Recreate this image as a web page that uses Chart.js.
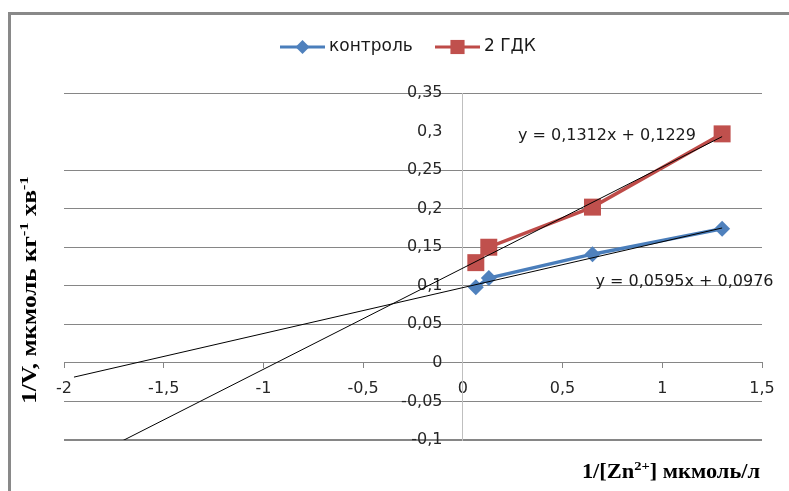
<!DOCTYPE html>
<html>
<head>
<meta charset="utf-8">
<script src="https://cdn.jsdelivr.net/npm/chart.js@4"></script>
<style>
  html, body { margin: 0; padding: 0; background: #fff; }
</style>
</head>
<body>
<canvas id="kinetics" width="789" height="491"></canvas>
<script>
  // Lineweaver-Burk data: 1/[Zn2+] against 1/V
  const seriesNames = ['контроль', '2 ГДК'];
  const zinc = [0.065, 0.13, 0.65, 1.3];
  const controlRate = [0.098, 0.11, 0.141, 0.174];
  const gdkRate = [0.13, 0.15, 0.202, 0.297];

  // linear trend lines (slope, intercept) and where the backward forecast starts
  const slopes = [0.0595, 0.1312];
  const intercepts = [0.0976, 0.1229];
  const trendFrom = -1.95;

  const xTicks = [-2, -1.5, -1, -0.5, 0, 0.5, 1, 1.5];
  const yTicks = [-0.1, -0.05, 0, 0.05, 0.1, 0.15, 0.2, 0.25, 0.3, 0.35];

  const BLUE = '#4A7EBB';
  const BLUE_MARK = '#4F81BD';
  const RED = '#BE4B48';
  const RED_MARK = '#C0504D';
  const GRID = '#868686';
  const SANS = '"DejaVu Sans", sans-serif';
  const SERIF = '"Liberation Serif", "Times New Roman", serif';

  const fmt = v => String(Math.round(v * 10000) / 10000).replace('.', ',');
  const points = ys => zinc.map((x, i) => ({ x, y: ys[i] }));
  const trend = i => {
    const xEnd = zinc[zinc.length - 1];
    return [
      { x: trendFrom, y: slopes[i] * trendFrom + intercepts[i] },
      { x: xEnd, y: slopes[i] * xEnd + intercepts[i] }
    ];
  };
  const equation = i => 'y = ' + fmt(slopes[i]) + 'x + ' + fmt(intercepts[i]);

  // draws text runs, some of them as superscripts, centred on x
  function drawRich(ctx, parts, x, y, size, family) {
    const fontFor = p => 'bold ' + (p.sup ? Math.round(size * 0.65) : size) + 'px ' + family;
    let total = 0;
    parts.forEach(p => { ctx.font = fontFor(p); total += ctx.measureText(p.t).width; });
    let cx = x - total / 2;
    ctx.textAlign = 'left';
    ctx.textBaseline = 'alphabetic';
    parts.forEach(p => {
      ctx.font = fontFor(p);
      ctx.fillText(p.t, cx, p.sup ? y - size * 0.38 : y);
      cx += ctx.measureText(p.t).width;
    });
  }

  const decor = {
    id: 'decor',
    beforeDraw(chart) {
      const ctx = chart.ctx;
      ctx.save();
      ctx.fillStyle = '#fff';
      ctx.fillRect(0, 0, chart.width, chart.height);
      // outer frame (only top and left edges fall inside the canvas)
      ctx.strokeStyle = '#898989';
      ctx.lineWidth = 3;
      ctx.beginPath();
      ctx.moveTo(9.5, chart.height + 5);
      ctx.lineTo(9.5, 13.5);
      ctx.lineTo(chart.width + 5, 13.5);
      ctx.stroke();
      ctx.restore();
    },
    afterDraw(chart) {
      const ctx = chart.ctx;
      const xs = chart.scales.x, ys = chart.scales.y;
      ctx.save();

      // legend: line sample with marker, then the name
      const legend = [
        { name: seriesNames[0], color: BLUE, mark: BLUE_MARK, style: 'rectRot', r: 7, x: 280 },
        { name: seriesNames[1], color: RED, mark: RED_MARK, style: 'rect', r: 10, x: 435 }
      ];
      const ly = 47;
      legend.forEach(l => {
        ctx.strokeStyle = l.color;
        ctx.lineWidth = 3;
        ctx.beginPath();
        ctx.moveTo(l.x, ly);
        ctx.lineTo(l.x + 45, ly);
        ctx.stroke();
        ctx.fillStyle = l.mark;
        Chart.helpers.drawPoint(ctx, { pointStyle: l.style, radius: l.r, borderWidth: 0, rotation: 0 }, l.x + 22.5, ly);
        ctx.fillStyle = '#1a1a1a';
        ctx.font = '17px ' + SANS;
        ctx.textAlign = 'left';
        ctx.textBaseline = 'middle';
        ctx.fillText(l.name, l.x + 49, ly);
      });

      // trend equations
      ctx.fillStyle = '#1a1a1a';
      ctx.font = '16px ' + SANS;
      ctx.textBaseline = 'middle';
      ctx.textAlign = 'left';
      ctx.fillText(equation(1), xs.getPixelForValue(0.276), ys.getPixelForValue(0.294));
      ctx.fillText(equation(0), xs.getPixelForValue(0.665), ys.getPixelForValue(0.105));

      // axis titles, a little stretched along the writing direction
      ctx.fillStyle = '#000';
      ctx.save();
      ctx.translate(671, 478);
      ctx.scale(1.12, 1);
      drawRich(ctx, [
        { t: '1/[Zn' }, { t: '2+', sup: true }, { t: '] мкмоль/л' }
      ], 0, 0, 20, SERIF);
      ctx.restore();

      ctx.translate(36, 290);
      ctx.rotate(-Math.PI / 2);
      ctx.scale(1.26, 1);
      drawRich(ctx, [
        { t: '1/V, мкмоль кг' }, { t: '-1', sup: true }, { t: ' хв' }, { t: '-1', sup: true }
      ], 0, 0, 20, SERIF);
      ctx.restore();
    }
  };

  const tickFont = { family: SANS, size: 16 };

  new Chart(document.getElementById('kinetics'), {
    type: 'scatter',
    data: {
      datasets: [
        {
          label: 'trend ' + seriesNames[0],
          data: trend(0),
          showLine: true,
          borderColor: '#000',
          borderWidth: 1,
          pointRadius: 0,
          order: 0
        },
        {
          label: 'trend ' + seriesNames[1],
          data: trend(1),
          showLine: true,
          borderColor: '#000',
          borderWidth: 1,
          pointRadius: 0,
          order: 0
        },
        {
          label: seriesNames[0],
          data: points(controlRate),
          showLine: true,
          borderColor: BLUE,
          borderWidth: 3.5,
          pointStyle: 'rectRot',
          pointRadius: 8,
          pointBackgroundColor: BLUE_MARK,
          pointBorderWidth: 0,
          order: 2
        },
        {
          label: seriesNames[1],
          data: points(gdkRate),
          showLine: true,
          borderColor: RED,
          borderWidth: 3.5,
          pointStyle: 'rect',
          pointRadius: 12,
          pointBackgroundColor: RED_MARK,
          pointBorderWidth: 0,
          order: 1
        }
      ]
    },
    options: {
      responsive: false,
      devicePixelRatio: 1,
      animation: false,
      layout: { padding: { left: 64, right: 27, top: 93, bottom: 51 } },
      plugins: { legend: { display: false }, tooltip: { enabled: false } },
      scales: {
        x: {
          type: 'linear',
          position: { y: 0 },
          min: -2,
          max: 1.5,
          afterBuildTicks: s => { s.ticks = xTicks.map(v => ({ value: v })); },
          afterFit: s => { s.paddingLeft = 0; s.paddingRight = 0; },
          grid: { drawOnChartArea: false, drawTicks: true, tickLength: 5, color: GRID },
          border: { color: GRID, width: 1 },
          ticks: {
            padding: 11,
            color: '#262626',
            font: tickFont,
            maxRotation: 0,
            autoSkip: false,
            callback: v => fmt(v)
          }
        },
        y: {
          type: 'linear',
          position: { x: 0 },
          min: -0.1,
          max: 0.35,
          afterBuildTicks: s => { s.ticks = yTicks.map(v => ({ value: v })); },
          afterFit: s => { s.paddingTop = 0; s.paddingBottom = 0; },
          grid: {
            drawTicks: false,
            color: c => (c.tick && Math.abs(c.tick.value - 0.3) < 1e-9) ? 'rgba(0,0,0,0)' : GRID,
            lineWidth: c => (c.tick && c.tick.value === -0.1) ? 2 : 1
          },
          border: { color: '#BFBFBF', width: 1 },
          ticks: {
            color: '#262626',
            font: tickFont,
            autoSkip: false,
            // labels sit left of the centred axis; trailing spaces keep them off the line
            callback: v => fmt(v) + '    '
          }
        }
      }
    },
    plugins: [decor]
  });
</script>
</body>
</html>
